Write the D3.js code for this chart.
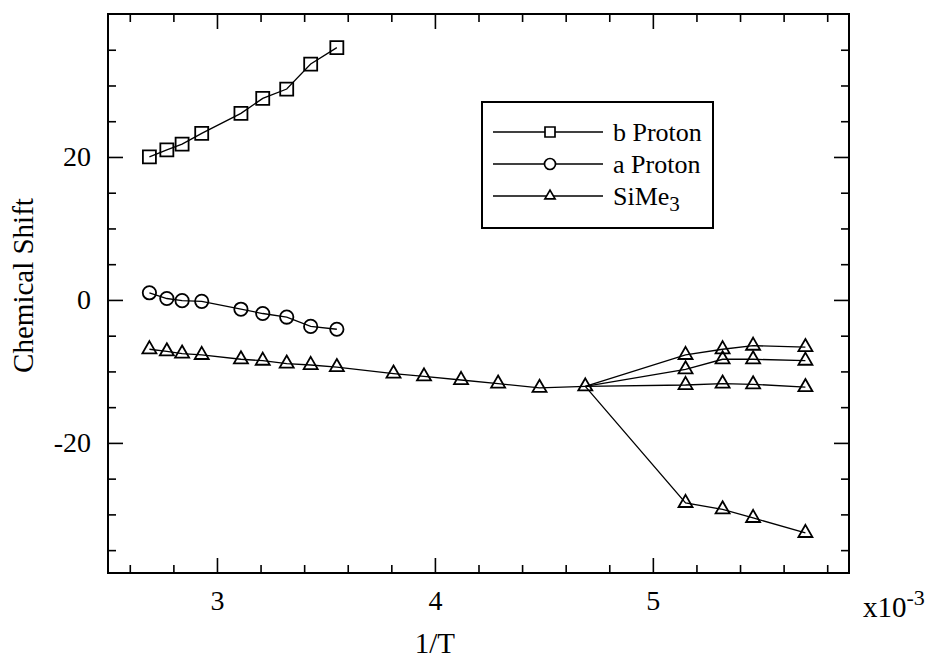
<!DOCTYPE html>
<html>
<head>
<meta charset="utf-8">
<script src="https://cdn.jsdelivr.net/npm/d3@7"></script>
<style>
  body { margin: 0; background: #fff; }
  svg text { font-family: "Liberation Serif", "Times New Roman", serif; fill: #000; }
</style>
</head>
<body>
<div id="chart"></div>
<script>
// 1/T values (x10^-3) shared by the low temperature runs
var invT = [2.69, 2.77, 2.84, 2.93, 3.11, 3.21, 3.32, 3.43, 3.55];

var bProtonY = [20.0, 21.0, 21.8, 23.3, 26.1, 28.2, 29.5, 33.0, 35.3];
var aProtonY = [1.0, 0.2, -0.1, -0.2, -1.3, -1.9, -2.4, -3.7, -4.1];

var siMe3X = invT.concat([3.81, 3.95, 4.12, 4.29, 4.48, 4.69]);
var siMe3Y = [-6.9, -7.2, -7.5, -7.7, -8.3, -8.5, -8.9, -9.1, -9.4,
              -10.3, -10.7, -11.2, -11.7, -12.3, -12.1];

// SiMe3 splits into four signals below the coalescence point
var branchX = [5.15, 5.32, 5.46, 5.70];
var branch1Y = [-7.7, -6.9, -6.4, -6.6];
var branch2Y = [-9.7, -8.3, -8.3, -8.5];
var branch3Y = [-11.9, -11.7, -11.8, -12.2];
var branch4Y = [-28.4, -29.3, -30.5, -32.6];

var xMajor = [3, 4, 5];
var xMinor = [2.6, 2.8, 3.2, 3.4, 3.6, 3.8, 4.2, 4.4, 4.6, 4.8, 5.2, 5.4, 5.6, 5.8];
var yMajor = [-20, 0, 20];
var yMinor = [-35, -30, -25, -15, -10, -5, 5, 10, 15, 25, 30, 35];

var legendNames = ["b Proton", "a Proton", "SiMe3"];

var width = 940, height = 661,
	margin = {top: 14, right: 91, bottom: 88, left: 108},
	innerWidth = width - margin.left - margin.right,
	innerHeight = height - margin.top - margin.bottom;

var xScale = d3.scaleLinear().domain([2.5, 5.9]).range([0, innerWidth]);
var yScale = d3.scaleLinear().domain([-38.2, 40]).range([innerHeight, 0]);

var svg = d3.select("#chart").append("svg")
	.attr("width", width)
	.attr("height", height);

var g = svg.append("g")
	.attr("transform", "translate(" + margin.left + "," + margin.top + ")");

function zip(xs, ys) {
	return xs.map(function(x, i) { return [x, ys[i]]; });
}

var line = d3.line()
	.x(function(d) { return xScale(d[0]); })
	.y(function(d) { return yScale(d[1]); });

// axes: major and minor ticks pointing inward on all four sides
function axis(fn, scale, values, size, labels) {
	var a = fn(scale)
		.tickValues(values)
		.tickSize(-size);
	if (labels) a.tickFormat(function(d) { return String(d); }).tickPadding(17);
	else a.tickFormat("");
	return a;
}

var axisBottomG = g.append("g").attr("transform", "translate(0," + innerHeight + ")");
axisBottomG.append("g").call(axis(d3.axisBottom, xScale, xMinor, 8, false));
axisBottomG.append("g").call(axis(d3.axisBottom, xScale, xMajor, 15, true));
var axisTopG = g.append("g");
axisTopG.append("g").call(axis(d3.axisTop, xScale, xMinor, 8, false));
axisTopG.append("g").call(axis(d3.axisTop, xScale, xMajor, 15, false));
var axisLeftG = g.append("g");
axisLeftG.append("g").call(axis(d3.axisLeft, yScale, yMinor, 8, false));
axisLeftG.append("g").call(axis(d3.axisLeft, yScale, yMajor, 15, true));
var axisRightG = g.append("g").attr("transform", "translate(" + innerWidth + ",0)");
axisRightG.append("g").call(axis(d3.axisRight, yScale, yMinor, 8, false));
axisRightG.append("g").call(axis(d3.axisRight, yScale, yMajor, 15, false));

g.selectAll(".domain").remove();
g.selectAll(".tick text").filter(function() { return this.textContent === ""; }).remove();
g.selectAll(".tick line").attr("stroke", "#000").attr("stroke-width", 1.6);
g.selectAll(".tick text")
	.attr("fill", "#000")
	.style("font-family", "'Liberation Serif', serif")
	.style("font-size", "28px");

g.append("rect")
	.attr("width", innerWidth)
	.attr("height", innerHeight)
	.attr("fill", "none")
	.attr("stroke", "#000")
	.attr("stroke-width", 2);

// axis titles
g.append("text")
	.attr("transform", "translate(-85," + (innerHeight / 2 - 8) + ") rotate(-90)")
	.attr("text-anchor", "middle")
	.attr("dy", "0.35em")
	.style("font-size", "29px")
	.text("Chemical Shift");

g.append("text")
	.attr("x", xScale(4))
	.attr("y", innerHeight + 70)
	.attr("dy", "0.35em")
	.attr("text-anchor", "middle")
	.style("font-size", "29px")
	.text("1/T");

var sci = g.append("text")
	.attr("x", innerWidth + 14)
	.attr("y", innerHeight + 44)
	.style("font-size", "29px");
sci.append("tspan").text("x10");
sci.append("tspan").attr("dy", -12).style("font-size", "22px").text("-3");

// data lines
var lines = [
	zip(invT, bProtonY),
	zip(invT, aProtonY),
	zip(siMe3X, siMe3Y)
];
var split = siMe3X.length - 1;
[branch1Y, branch2Y, branch3Y, branch4Y].forEach(function(ys) {
	lines.push([[siMe3X[split], siMe3Y[split]]].concat(zip(branchX, ys)));
});

g.append("g").selectAll("path")
	.data(lines)
	.enter().append("path")
	.attr("d", line)
	.attr("fill", "none")
	.attr("stroke", "#000")
	.attr("stroke-width", 1.3);

// markers
var square = d3.symbol().type(d3.symbolSquare).size(169),
	circle = d3.symbol().type(d3.symbolCircle).size(140),
	triangle = d3.symbol().type(d3.symbolTriangle).size(85);

function markers(points, sym) {
	g.append("g").selectAll("path")
		.data(points)
		.enter().append("path")
		.attr("transform", function(d) { return "translate(" + xScale(d[0]) + "," + yScale(d[1]) + ")"; })
		.attr("d", sym)
		.attr("fill", "none")
		.attr("stroke", "#000")
		.attr("stroke-width", 1.8);
}

markers(zip(invT, bProtonY), square);
markers(zip(invT, aProtonY), circle);
var triPoints = zip(siMe3X, siMe3Y);
[branch1Y, branch2Y, branch3Y, branch4Y].forEach(function(ys) {
	triPoints = triPoints.concat(zip(branchX, ys));
});
markers(triPoints, triangle);

// legend
var legend = svg.append("g").attr("transform", "translate(482,102)");
legend.append("rect")
	.attr("width", 231)
	.attr("height", 126)
	.attr("fill", "#fff")
	.attr("stroke", "#000")
	.attr("stroke-width", 2);

var legendSyms = [
	d3.symbol().type(d3.symbolSquare).size(100),
	d3.symbol().type(d3.symbolCircle).size(95),
	d3.symbol().type(d3.symbolTriangle).size(45)
];

var rows = legend.selectAll(".row")
	.data(legendNames)
	.enter().append("g")
	.attr("transform", function(d, i) { return "translate(0," + (30 + i * 32) + ")"; });

rows.append("line")
	.attr("x1", 11).attr("x2", 121)
	.attr("stroke", "#000").attr("stroke-width", 1.3);
rows.append("path")
	.attr("transform", "translate(68,0)")
	.attr("d", function(d, i) { return legendSyms[i](); })
	.attr("fill", "#fff")
	.attr("stroke", "#000")
	.attr("stroke-width", 1.7);

var labels = rows.append("text")
	.attr("x", 131)
	.attr("dy", "0.35em")
	.style("font-size", "26px");
labels.each(function(d) {
	var t = d3.select(this);
	if (d === "SiMe3") {
		t.append("tspan").text("SiMe");
		t.append("tspan").attr("dy", 6).style("font-size", "21px").text("3");
	} else {
		t.text(d);
	}
});
</script>
</body>
</html>
